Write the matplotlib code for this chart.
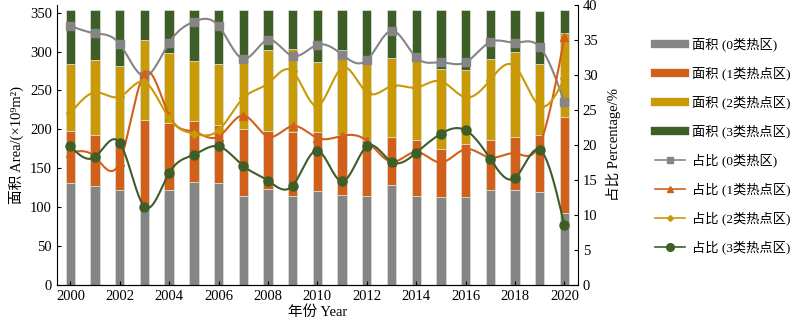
import numpy as np
import matplotlib.pyplot as plt
from matplotlib.lines import Line2D

plt.rcParams['font.family'] = ['Liberation Serif', 'Noto Sans CJK SC', 'DejaVu Sans']
plt.rcParams['axes.unicode_minus'] = False

years = list(range(2000, 2021))

# stacked bar tops (x10^9 m2), then converted to segment heights
top0 = [131, 127.5, 121.5, 100.5, 122, 132.6, 131, 114, 123.7, 115, 120.7,
        116, 114, 128, 115, 112.5, 112.5, 122, 122, 120, 92]
top1 = [198, 192.6, 184, 212, 208, 211, 205, 200, 198, 196, 196,
        192.6, 186, 190, 187, 174.6, 181, 187, 190.4, 193.4, 216.5]
top2 = [284, 289.7, 282, 314.5, 298, 288.4, 283.7, 286.7, 301.7, 303.4, 286,
        301.7, 284.6, 292, 287.6, 277.7, 276, 290, 300, 284.6, 323.5]
top3 = [354, 354, 354, 354, 354, 354, 354, 354, 354, 354, 354,
        354, 354, 354, 354, 354, 354, 354, 354, 352.6, 353]

# percentage of each class (%)
pct0 = [37.0, 35.95, 34.4, 29.8, 34.6, 37.6, 37.0, 32.3, 35.0, 32.7, 34.3,
        32.9, 32.1, 36.3, 32.5, 31.8, 31.8, 34.7, 34.6, 34.0, 26.1]
pct1 = [18.9, 18.3, 17.6, 30.2, 24.2, 21.9, 21.2, 24.2, 21.2, 22.7, 21.0,
        21.3, 20.6, 17.6, 19.0, 17.5, 19.4, 18.2, 18.8, 20.1, 35.4]
pct2 = [24.5, 27.5, 26.9, 29.0, 23.8, 21.6, 22.1, 26.7, 28.8, 30.5, 25.6,
        31.0, 27.5, 28.4, 28.2, 29.1, 26.8, 29.3, 31.2, 25.6, 29.5]
pct3 = [19.8, 18.3, 20.3, 11.2, 16.0, 18.6, 19.8, 17.0, 14.9, 14.2, 19.2,
        14.8, 19.8, 17.6, 18.9, 21.6, 22.1, 18.0, 15.3, 19.3, 8.5]

area_labels = ['面积 (0类热区)', '面积 (1类热点区)', '面积 (2类热点区)', '面积 (3类热点区)']
pct_labels = ['占比 (0类热区)', '占比 (1类热点区)', '占比 (2类热点区)', '占比 (3类热点区)']
colors = ['#858585', '#d2601a', '#c99a06', '#3d5e27']
markers = ['s', '^', 'D', 'o']
msizes = [6, 6, 4, 6.5]


def smooth(x, y, n=400):
    # natural cubic spline through the points, only used to draw the curve
    x = np.asarray(x, float)
    y = np.asarray(y, float)
    k = len(x)
    h = np.diff(x)
    A = np.zeros((k, k))
    b = np.zeros(k)
    A[0, 0] = A[-1, -1] = 1
    for i in range(1, k - 1):
        A[i, i - 1] = h[i - 1]
        A[i, i] = 2 * (h[i - 1] + h[i])
        A[i, i + 1] = h[i]
        b[i] = 3 * ((y[i + 1] - y[i]) / h[i] - (y[i] - y[i - 1]) / h[i - 1])
    c = np.linalg.solve(A, b)
    xs = np.linspace(x[0], x[-1], n)
    idx = np.clip(np.searchsorted(x, xs) - 1, 0, k - 2)
    dx = xs - x[idx]
    bb = (y[idx + 1] - y[idx]) / h[idx] - h[idx] * (2 * c[idx] + c[idx + 1]) / 3
    dd = (c[idx + 1] - c[idx]) / (3 * h[idx])
    return xs, y[idx] + bb * dx + c[idx] * dx ** 2 + dd * dx ** 3


fig = plt.figure(figsize=(8, 3.25), dpi=100)
ax = fig.add_axes([0.071, 0.123, 0.6515, 0.862])
ax2 = ax.twinx()

x = np.array(years)
tops = [top0, top1, top2, top3]
bottom = np.zeros(len(x))
for i in range(4):
    h = np.array(tops[i]) - bottom
    ax.bar(x, h, 0.38, bottom=bottom, color=colors[i], edgecolor='#d5dccd',
           linewidth=0.6, zorder=1)
    bottom = np.array(tops[i])

pcts = [pct0, pct1, pct2, pct3]
for i in range(4):
    xs, ys = smooth(x, pcts[i])
    ax2.plot(xs, ys, color=colors[i], lw=1.5, zorder=3)
    ax2.plot(x, pcts[i], ls='none', marker=markers[i], ms=msizes[i],
             color=colors[i], zorder=4)

ax.set_xlim(1999.45, 2020.55)
ax.set_ylim(0, 360)
ax2.set_ylim(0, 40)
ax.set_xticks(range(2000, 2021, 2))
ax.set_yticks(range(0, 351, 50))
ax2.set_yticks(range(0, 41, 5))

for a in (ax, ax2):
    a.spines['top'].set_visible(False)
    a.tick_params(direction='in', labelsize=10.5, length=3)
ax2.spines['left'].set_visible(False)
ax.spines['right'].set_visible(False)

ax.set_xlabel('年份 Year', fontsize=10.5, labelpad=2)
ax.set_ylabel('面积 Area/(×10⁹m²)', fontsize=10.5, labelpad=4)
ax2.set_ylabel('占比 Percentage/%', fontsize=10.5, labelpad=6)

handles = [Line2D([], [], color=c, lw=6) for c in colors]
handles += [Line2D([], [], color=colors[i], lw=1.2, marker=markers[i],
                   ms=msizes[i] - 1) for i in range(4)]
fig.legend(handles, area_labels + pct_labels, loc='upper left',
           bbox_to_anchor=(0.812, 0.9), frameon=False, fontsize=9.5,
           handlelength=2.3, handletextpad=0.5, labelspacing=1.15,
           borderaxespad=0)

fig.savefig('out.png', dpi=100)
